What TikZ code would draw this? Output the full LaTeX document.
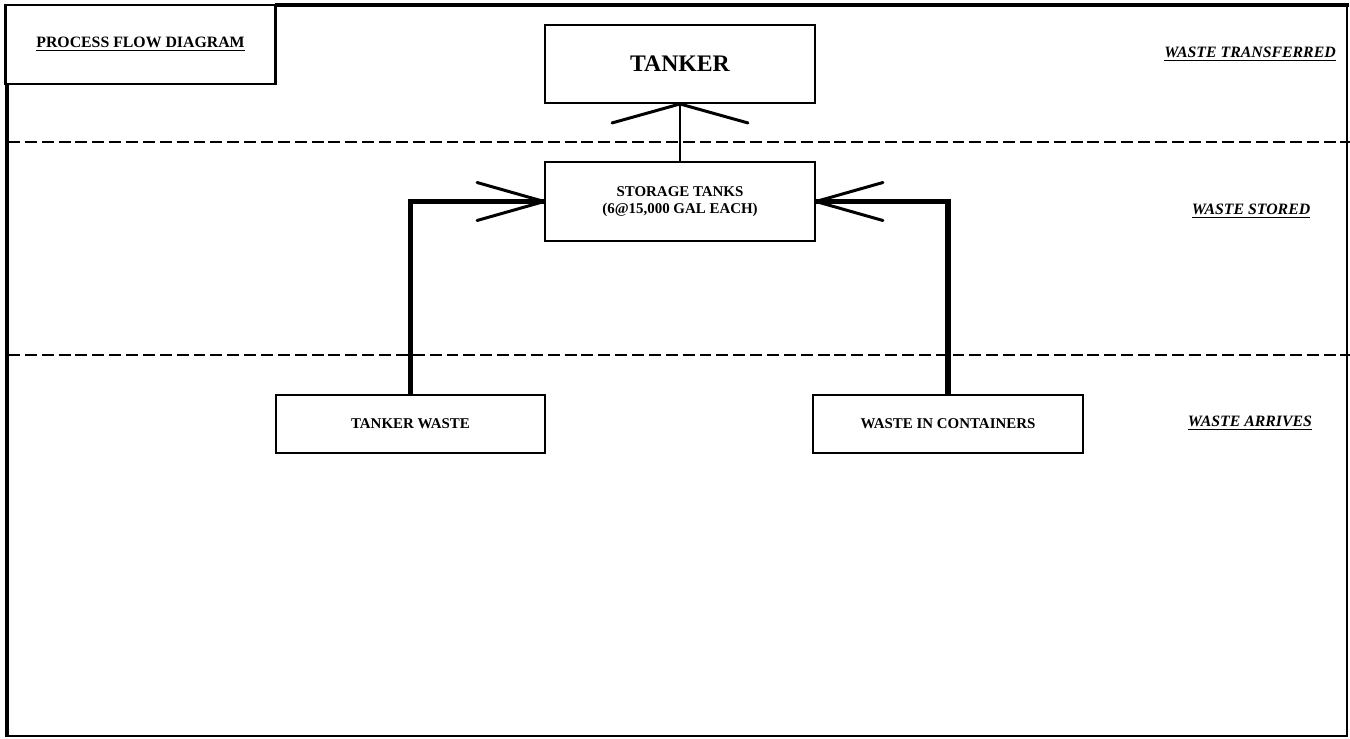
\documentclass[tikz,border=0pt]{standalone}
\usepackage{fontspec}
\setmainfont{Liberation Serif}
\begin{document}
\begin{tikzpicture}[x=0.02cm,y=-0.02cm,
  box/.style={draw,line width=1.1pt,inner sep=0pt,align=center,font=\bfseries\fontsize{8.5}{10}\selectfont},
  lane/.style={font=\bfseries\itshape\fontsize{9}{11}\selectfont},
  divider/.style={line width=1.1pt,dash pattern=on 6.8pt off 2.8pt},
  flow/.style={line width=3pt},
  wing/.style={line width=1.7pt,line cap=round},
  thinflow/.style={line width=1.1pt}]
\useasboundingbox (0,0) rectangle (1350,738);
% frame
\draw[line width=2.3pt] (7,84) -- (7,737);
\draw[line width=0.9pt] (6,736) -- (1347,736) -- (1347,5);
\draw[line width=1.8pt] (275,5) -- (1349,5);
\node[draw,line width=1.2pt,minimum width=5.4cm,minimum height=1.58cm,inner sep=0pt,
  font=\bfseries\fontsize{9}{11}\selectfont] (title) at (140.5,44.5) {\underline{PROCESS FLOW DIAGRAM}};
% dividers
\draw[divider] (8,142) -- (1350,142);
\draw[divider] (8,355) -- (1350,355);
% boxes
\node[box,minimum width=5.4cm,minimum height=1.56cm,font=\bfseries\fontsize{13.5}{16}\selectfont] (tanker) at (680,64) {TANKER};
\node[box,minimum width=5.4cm,minimum height=1.58cm] (storage) at (680,201.5) {STORAGE TANKS\\(6@15,000 GAL EACH)};
\node[box,minimum width=5.38cm,minimum height=1.16cm] (tw) at (410.5,424) {TANKER WASTE};
\node[box,minimum width=5.4cm,minimum height=1.16cm] (wc) at (948,424) {WASTE IN CONTAINERS};
% lane labels
\node[lane] (l1) at (1250,54) {\underline{WASTE TRANSFERRED}};
\node[lane] (l2) at (1251,211) {\underline{WASTE STORED}};
\node[lane] (l3) at (1250,423) {\underline{WASTE ARRIVES}};
% connectors
\draw[thinflow] (storage.north) -- (tanker.south);
\draw[wing] (tanker.south) -- ++(-68,19);
\draw[wing] (tanker.south) -- ++(68,19);
\draw[flow] (tw.north) |- (storage.west);
\draw[wing] (storage.west) -- ++(-67,-19);
\draw[wing] (storage.west) -- ++(-67,19);
\draw[flow] (wc.north) |- (storage.east);
\draw[wing] (storage.east) -- ++(67,-19);
\draw[wing] (storage.east) -- ++(67,19);
\end{tikzpicture}
\end{document}
